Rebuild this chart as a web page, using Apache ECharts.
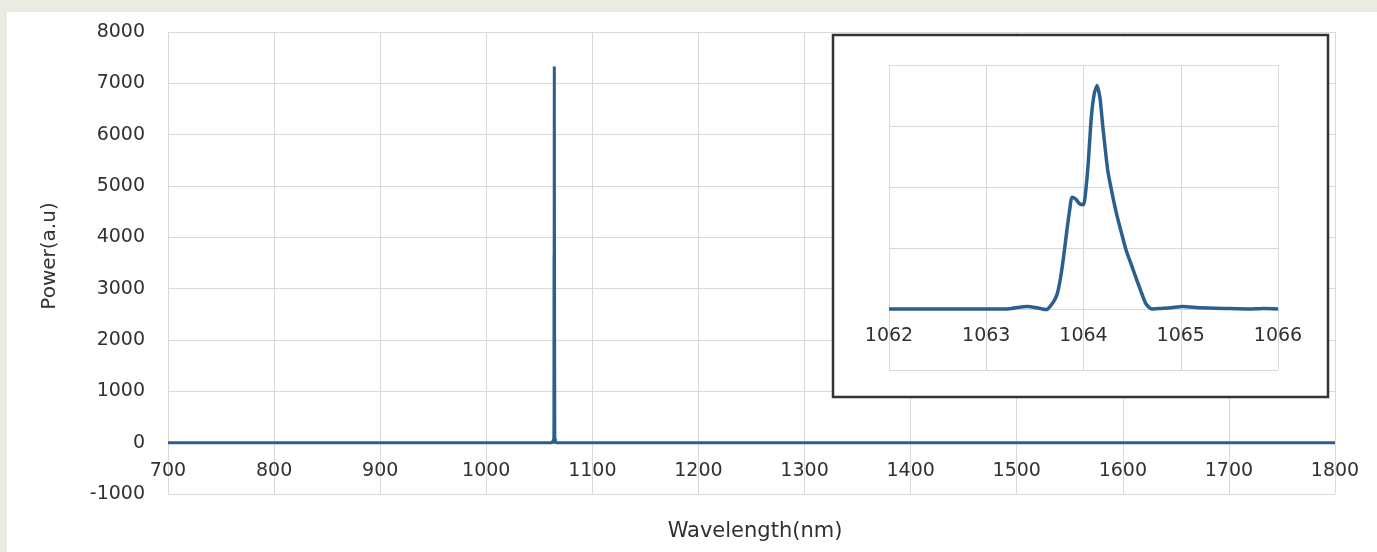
<!DOCTYPE html>
<html>
<head>
<meta charset="utf-8">
<script src="https://cdn.jsdelivr.net/npm/echarts@6/dist/echarts.min.js"></script>
<style>
html,body{margin:0;padding:0;background:#ecebe1;}
#c{width:1377px;height:552px;}
</style>
</head>
<body>
<div id="c"></div>
<script>
// ---- data ----
const mainRange = [700, 1800];
const mainTicks = { min: -1000, max: 8000, step: 1000 };
const insetRange = [1062, 1066];
const insetTicks = { min: -2000, max: 8000, step: 2000 };

// spectrum around the laser line (nm, a.u.)
const wavelength = [1062.00, 1062.50, 1063.00, 1063.24, 1063.34, 1063.42, 1063.52, 1063.62, 1063.66, 1063.70,
  1063.73, 1063.76, 1063.79, 1063.83, 1063.86, 1063.88, 1063.92, 1063.96, 1064.00, 1064.03,
  1064.05, 1064.08, 1064.11, 1064.14, 1064.17, 1064.20, 1064.25, 1064.30, 1064.34, 1064.39,
  1064.44, 1064.50, 1064.55, 1064.60, 1064.64, 1064.70, 1064.80, 1064.90, 1065.02, 1065.20,
  1065.48, 1065.70, 1065.85, 1066.00];
const power = [0, 0, 0, 10, 60, 80, 40, -20, 100, 280,
  500, 950, 1580, 2600, 3300, 3660, 3600, 3450, 3420, 4100,
  4850, 6270, 7050, 7330, 6900, 5940, 4530, 3700, 3120, 2500,
  1910, 1380, 930, 500, 180, 0, 20, 40, 80, 40,
  15, 0, 15, 0];

const labelColor = '#2e3230';
const gridColor = '#d9d9d9';
const lineColor = '#2a5f8e';
const fontFamily = 'DejaVu Sans';

const insetData = wavelength.map((w, i) => [w, power[i]]);
const mainData = [[mainRange[0], 0]].concat(insetData, [[mainRange[1], 0]]);

const chart = echarts.init(document.getElementById('c'));
const plain = v => String(v);
const labelFont = { color: labelColor, fontSize: 19, fontFamily: fontFamily, formatter: plain };

chart.setOption({
  backgroundColor: '#ecebe1',
  animation: false,
  grid: [
    { left: 168, right: 42, top: 32, bottom: 58 },
    { left: 889, right: 99, top: 65, bottom: 182 }
  ],
  xAxis: [
    {
      type: 'value', gridIndex: 0, min: mainRange[0], max: mainRange[1], interval: 100,
      position: 'bottom', offset: -51,
      axisLine: { show: false, onZero: false },
      axisTick: { show: false },
      axisLabel: Object.assign({ margin: 19 }, labelFont),
      splitLine: { show: true, lineStyle: { color: gridColor, width: 1 } },
      z: 0
    },
    {
      type: 'value', gridIndex: 1, min: insetRange[0], max: insetRange[1], interval: 1,
      position: 'bottom', offset: -61,
      axisLine: { show: false, onZero: false },
      axisTick: { show: false },
      axisLabel: Object.assign({ margin: 18 }, labelFont),
      splitLine: { show: true, lineStyle: { color: gridColor, width: 1 } },
      z: 6
    }
  ],
  yAxis: [
    {
      type: 'value', gridIndex: 0, min: mainTicks.min, max: mainTicks.max, interval: mainTicks.step,
      axisLine: { show: false },
      axisTick: { show: false },
      axisLabel: Object.assign({ margin: 23 }, labelFont),
      splitLine: { show: true, lineStyle: { color: gridColor, width: 1 } },
      z: 0
    },
    {
      type: 'value', gridIndex: 1, min: insetTicks.min, max: insetTicks.max, interval: insetTicks.step,
      axisLine: { show: false },
      axisTick: { show: false },
      axisLabel: { show: false },
      splitLine: { show: true, lineStyle: { color: gridColor, width: 1 } },
      z: 6
    }
  ],
  series: [
    {
      type: 'line', xAxisIndex: 0, yAxisIndex: 0, data: mainData,
      showSymbol: false, lineStyle: { color: lineColor, width: 3 }, z: 2
    },
    {
      type: 'line', xAxisIndex: 1, yAxisIndex: 1, data: insetData,
      showSymbol: false, smooth: 0.2, lineStyle: { color: lineColor, width: 3.5 }, z: 7
    }
  ],
  graphic: [
    { type: 'rect', z: -10, shape: { x: 7, y: 12, width: 1370, height: 540 }, style: { fill: '#ffffff' } },
    { type: 'rect', z: 5, shape: { x: 833, y: 35, width: 495, height: 362 },
      style: { fill: '#ffffff', stroke: '#333333', lineWidth: 2.5 } },
    { type: 'text', z: 10, x: 50, y: 256, rotation: Math.PI / 2,
      style: { text: 'Power(a.u)', fill: labelColor, fontSize: 20, fontFamily: fontFamily, align: 'center', verticalAlign: 'middle' } },
    { type: 'text', z: 10, x: 755, y: 532,
      style: { text: 'Wavelength(nm)', fill: labelColor, fontSize: 21, fontFamily: fontFamily, align: 'center', verticalAlign: 'middle' } }
  ]
});
</script>
</body>
</html>
